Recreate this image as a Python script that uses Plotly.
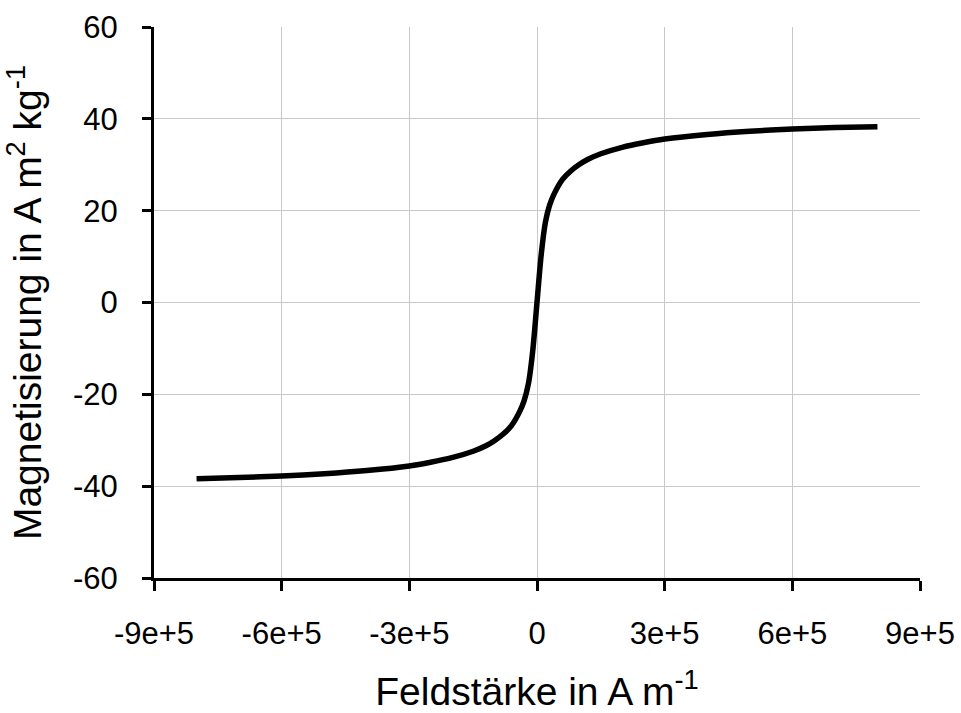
import plotly.graph_objects as go

# Field strength (A/m) and magnetisation (A m^2/kg)
field = [-8e5, -7e5, -6e5, -5e5, -4e5, -3e5, -2.5e5, -2e5, -1.5e5, -1.2e5, -1e5,
         -8e4, -6e4, -4e4, -3e4, -2e4, -1e4, 0,
         1e4, 2e4, 3e4, 4e4, 6e4, 8e4, 1e5, 1.2e5, 1.5e5, 2e5, 2.5e5, 3e5,
         4e5, 5e5, 6e5, 7e5, 8e5]
magnet = [-38.4, -38.1, -37.8, -37.3, -36.6, -35.6, -34.8, -33.8, -32.4, -31.2, -30.1,
          -28.7, -26.8, -23.6, -21.3, -17.6, -10.5, 0.0,
          10.5, 17.6, 21.3, 23.6, 26.8, 28.7, 30.1, 31.2, 32.4, 33.8, 34.8, 35.6,
          36.6, 37.3, 37.8, 38.1, 38.3]

x_tickvals = [-9e5, -6e5, -3e5, 0, 3e5, 6e5, 9e5]
x_ticktext = ["-9e+5", "-6e+5", "-3e+5", "0", "3e+5", "6e+5", "9e+5"]
y_tickvals = [-60, -40, -20, 0, 20, 40, 60]
y_ticktext = ["-60", "-40", "-20", "0", "20", "40", "60"]

fig = go.Figure()
fig.add_trace(go.Scatter(
    x=field, y=magnet, mode="lines",
    line=dict(color="black", width=5.5, shape="spline", smoothing=0.8),
    showlegend=False, hoverinfo="skip"))

font_family = "Liberation Sans, Arial, sans-serif"

fig.update_layout(
    width=961, height=713,
    margin=dict(l=154, r=41, t=27, b=135),
    paper_bgcolor="white", plot_bgcolor="white",
    font=dict(family=font_family, color="black", size=31),
    xaxis=dict(
        range=[-9e5, 9e5], tickvals=x_tickvals, ticktext=x_ticktext,
        automargin=False,
        showgrid=True, gridcolor="#c8c8c8", gridwidth=1.3,
        zeroline=False, showline=True, linecolor="black", linewidth=3,
        ticks="outside", ticklen=10, tickwidth=3, tickcolor="black",
        ticklabelstandoff=16,
        tickfont=dict(size=31, family=font_family, color="black"),
        title=dict(text="Feldstärke in A m<sup>-1</sup>",
                   font=dict(size=39, family=font_family, color="black"), standoff=40),
    ),
    yaxis=dict(
        range=[-60, 60], tickvals=y_tickvals, ticktext=y_ticktext,
        automargin=False,
        showgrid=True, gridcolor="#c8c8c8", gridwidth=1.3,
        zeroline=False, showline=True, linecolor="black", linewidth=3,
        ticks="outside", ticklen=9, tickwidth=3, tickcolor="black",
        ticklabelstandoff=18,
        tickfont=dict(size=31, family=font_family, color="black"),
        title=dict(text="Magnetisierung in A m<sup>2</sup> kg<sup>-1</sup>",
                   font=dict(size=39, family=font_family, color="black"), standoff=30),
    ),
)

fig.write_html("out.html")
